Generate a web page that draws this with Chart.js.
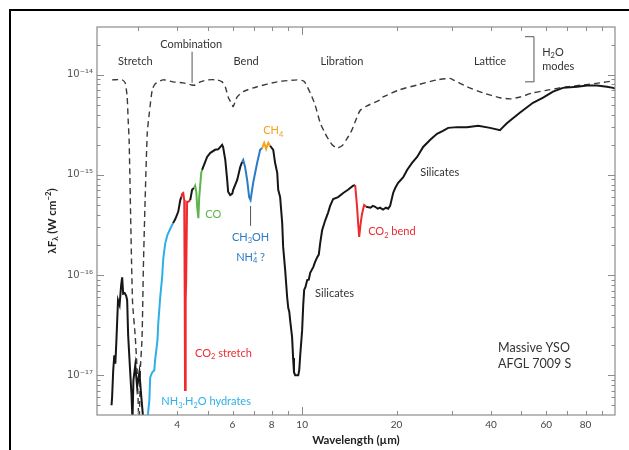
<!DOCTYPE html>
<html><head><meta charset="utf-8">
<script src="https://cdn.jsdelivr.net/npm/chart.js@4.4.1/dist/chart.umd.min.js"></script>
<style>
html,body{margin:0;padding:0;background:#fff;overflow:hidden;width:629px;height:450px;}
#frame{position:absolute;left:9px;top:9px;width:700px;height:600px;border:2px solid #000;}
#wrap{position:absolute;left:0;top:0;width:629px;height:450px;}
</style></head><body>
<div id="frame"></div>
<div id="wrap"><canvas id="c"></canvas></div>
<script>
// ---- Observed spectrum (solid) ----
const wavelength = [2.47,2.48,2.50,2.52,2.54,2.56,2.59,2.62,2.65,2.67,2.69,2.72,2.75,2.77,2.79,2.83,2.86,2.88,2.90,2.94,2.98,3.03,3.07,3.12,3.17,
 3.21,3.26,3.28,3.33,3.38,3.40,3.46,3.48,3.53,3.58,3.61,3.66,3.72,3.80,3.88,
 3.94,4.03,4.09,4.12,4.15,4.18,4.21,4.226,4.235,4.25,4.26,4.27,4.30,4.34,4.40,
 4.46,4.52,4.56,4.60,4.63,4.67,4.70,4.77,4.80,
 4.91,4.98,5.10,5.28,5.40,5.56,5.60,5.69,5.77,5.81,5.90,5.99,6.03,6.21,6.35,
 6.44,6.49,6.58,6.68,6.78,6.85,6.98,7.19,7.35,7.46,7.57,7.68,7.80,7.91,
 7.96,8.09,8.20,8.33,8.39,8.51,8.64,8.70,8.83,8.96,9.03,9.10,9.16,9.29,9.36,9.42,9.50,9.72,9.79,9.86,
 10.0,10.08,10.15,10.25,10.38,10.5,10.61,10.85,11.0,11.17,11.3,11.42,11.58,11.84,12.1,12.28,12.56,13.02,13.52,14.0,14.54,
 14.76,14.95,15.09,15.2,15.35,15.5,15.76,16.0,
 16.5,16.8,17.1,17.4,17.7,18.1,18.5,18.8,19.07,19.5,19.8,20.2,21.0,21.6,22.4,23.25,24.3,25.6,26.9,28.1,29.2,
 31.2,33.5,36.4,39.7,42.7,43.4,45.0,49.5,54.4,58.6,63.0,67.8,75.2,80.9,87.0,93.6,97.9,99.3];
const flux = [5.0e-18,6.0e-18,1.1e-17,1.58e-17,1.3e-17,2.24e-17,5.6e-17,5.0e-17,7.9e-17,9.5e-17,6.5e-17,6.6e-17,6.2e-17,5.6e-17,2.5e-17,1.12e-17,6.3e-18,3.5e-18,8.9e-18,1.26e-17,7.6e-18,1.07e-17,6.3e-18,3.5e-18,2.5e-18,
 3.5e-18,5.6e-18,9.5e-18,1.07e-17,1.12e-17,1.41e-17,2.24e-17,3.3e-17,6.0e-17,9.5e-17,1.45e-16,2.05e-16,2.5e-16,2.9e-16,3.3e-16,
 3.6e-16,4.3e-16,5.6e-16,6.0e-16,6.5e-16,6.6e-16,5.6e-16,5.6e-17,7.1e-18,7.1e-18,5.6e-17,8.9e-17,5.4e-16,5.4e-16,5.6e-16,
 7.1e-16,7.4e-16,7.8e-16,6.8e-16,4.8e-16,3.7e-16,6.0e-16,1.05e-15,1.12e-15,
 1.35e-15,1.51e-15,1.66e-15,1.78e-15,1.8e-15,2.0e-15,1.9e-15,1.41e-15,8.9e-16,6.8e-16,6.3e-16,6.5e-16,7.1e-16,8.9e-16,1.2e-15,
 1.35e-15,1.41e-15,1.2e-15,8.9e-16,6.0e-16,5.6e-16,8.3e-16,1.32e-15,1.78e-15,1.86e-15,2.09e-15,1.82e-15,2.09e-15,1.95e-15,
 1.9e-15,1.78e-15,1.32e-15,1.05e-15,7.1e-16,6.0e-16,3.3e-16,1.91e-16,1.12e-16,6.0e-17,4.7e-17,4.3e-17,3.5e-17,2.4e-17,1.48e-17,1.07e-17,1.0e-17,1.0e-17,1.12e-17,1.58e-17,
 2.8e-17,5.0e-17,7.1e-17,7.6e-17,8.9e-17,9.0e-17,1.05e-16,1.2e-16,1.35e-16,1.51e-16,1.6e-16,2.09e-16,2.8e-16,3.5e-16,4.2e-16,4.9e-16,5.75e-16,6.0e-16,6.6e-16,7.1e-16,7.8e-16,
 7.9e-16,5.0e-16,3.2e-16,2.4e-16,3.2e-16,4.0e-16,5.0e-16,4.8e-16,
 4.7e-16,4.9e-16,4.8e-16,4.6e-16,4.7e-16,4.5e-16,4.7e-16,4.6e-16,4.9e-16,6.6e-16,7.4e-16,8.3e-16,9.5e-16,1.12e-15,1.32e-15,1.51e-15,1.9e-15,2.24e-15,2.57e-15,2.75e-15,2.95e-15,
 3.0e-15,3.0e-15,3.1e-15,2.95e-15,2.8e-15,2.95e-15,3.3e-15,4.2e-15,5.25e-15,5.9e-15,6.8e-15,7.4e-15,7.6e-15,7.8e-15,7.8e-15,7.6e-15,7.4e-15,7.3e-15];

// ---- H2O ice model (dashed) ----
const iceWavelength = [2.48,2.67,2.73,2.77,2.79,2.81,2.88,2.94,2.98,3.00,3.02,3.04,3.05,3.09,3.12,3.16,3.21,3.26,3.33,3.40,3.61,3.88,4.18,4.46,4.56,4.74,5.02,5.36,5.56,5.69,5.81,5.99,6.03,6.21,6.49,7.19,8.33,9.64,
 10.08,10.23,10.61,10.85,11.0,11.42,11.84,12.0,12.46,12.93,13.4,13.9,14.4,14.76,15.3,16.1,17.7,18.1,20.5,23.25,26.9,29.6,30.3,33.5,37.7,42.7,46.0,49.5,54.4,61.6,69.8,78.5,89,97.9];
const iceFlux = [8.9e-15,8.9e-15,8.3e-15,6.0e-15,3.55e-15,2.24e-15,5.6e-17,2.4e-17,1.12e-17,6.0e-18,3.0e-18,6.0e-18,1.12e-17,2.4e-17,1.2e-16,5.6e-16,2.6e-15,4.2e-15,7.1e-15,8.1e-15,8.9e-15,8.5e-15,8.3e-15,7.9e-15,7.9e-15,8.5e-15,8.9e-15,8.9e-15,8.5e-15,7.6e-15,6.0e-15,5.0e-15,4.8e-15,6.0e-15,6.8e-15,7.6e-15,8.5e-15,8.9e-15,
 8.7e-15,8.3e-15,6.6e-15,5.6e-15,5.0e-15,3.3e-15,2.6e-15,2.4e-15,2.0e-15,1.86e-15,1.95e-15,2.3e-15,2.8e-15,3.4e-15,4.4e-15,4.9e-15,5.6e-15,6.0e-15,7.1e-15,7.9e-15,8.9e-15,9.2e-15,8.9e-15,7.6e-15,6.6e-15,5.9e-15,5.75e-15,6.0e-15,6.6e-15,7.1e-15,7.6e-15,7.9e-15,8.3e-15,8.7e-15];

// ---- Coloured absorption bands (wavelength ranges, µm) ----
const bandNames = ['NH3.H2O hydrates','CO2 stretch','CO','CH3OH','CH4','CO2 bend'];
const bandFrom  = [3.21, 4.12, 4.52, 6.44, 7.46, 14.76];
const bandTo    = [3.88, 4.40, 4.80, 7.46, 7.91, 16.0];
const bandColor = ['#2bb0e8','#ee2a2f','#5db44a','#2a7cc7','#f6a21d','#ee2a2f'];

// ---- Ticks ----
const xTickValues = [3,4,5,6,7,8,9,10,20,30,40,50,60,70,80,90];
const xLabelValues = [4,6,8,10,20,40,60,80];
const yTickValues = [5e-18,6e-18,7e-18,8e-18,9e-18,1e-17,2e-17,3e-17,4e-17,5e-17,6e-17,7e-17,8e-17,9e-17,
 1e-16,2e-16,3e-16,4e-16,5e-16,6e-16,7e-16,8e-16,9e-16,1e-15,2e-15,3e-15,4e-15,5e-15,6e-15,7e-15,8e-15,9e-15,1e-14,2e-14];
const yLabelValues = [1e-17,1e-16,1e-15,1e-14];
const yTickLabels  = ['10⁻¹⁷','10⁻¹⁶','10⁻¹⁵','10⁻¹⁴'];

const dark = '#333', cyan = bandColor[0], red = bandColor[1], green = bandColor[2], blue = bandColor[3], orange = bandColor[4];
const annotations = [
 {parts:[['Stretch']], at:[2.94,1.35e-14], align:'center', color:dark},
 {parts:[['Combination']], at:[4.43,2.0e-14], align:'center', color:dark},
 {parts:[['Bend']], at:[6.63,1.35e-14], align:'center', color:dark},
 {parts:[['Libration']], at:[13.4,1.35e-14], align:'center', color:dark},
 {parts:[['Lattice']], at:[39.7,1.35e-14], align:'center', color:dark},
 {parts:[['H'],['2','sub'],['O']], at:[58.2,1.66e-14], align:'left', color:dark},
 {parts:[['modes']], at:[58.2,1.2e-14], align:'left', color:dark},
 {parts:[['CH'],['4','sub']], at:[8.09,2.75e-15], align:'center', color:orange},
 {parts:[['CO']], at:[4.91,4.0e-16], align:'left', color:green},
 {parts:[['CH'],['3','sub'],['OH']], at:[6.85,2.4e-16], align:'center', color:blue},
 {parts:[['NH'],['4','stack','+'],[' ?']], at:[6.85,1.51e-16], align:'center', color:blue},
 {parts:[['CO'],['2','sub'],[' stretch']], at:[4.56,1.66e-17], align:'left', color:red},
 {parts:[['NH'],['3','sub'],['.H'],['2','sub'],['O hydrates']], at:[3.56,5.4e-18], align:'left', color:cyan},
 {parts:[['Silicates']], at:[11.0,6.5e-17], align:'left', color:dark},
 {parts:[['Silicates']], at:[23.8,1.05e-15], align:'left', color:dark},
 {parts:[['CO'],['2','sub'],[' bend']], at:[16.23,2.7e-16], align:'left', color:red},
 {parts:[['Massive YSO']], at:[42.1,1.86e-17], align:'left', color:dark, size:12.5},
 {parts:[['AFGL 7009 S']], at:[42.1,1.29e-17], align:'left', color:dark, size:12.5}
];
const leaders = [
 [[4.46,1.7e-14],[4.46,8.3e-15]],
 [[6.85,4.9e-16],[6.85,3.1e-16]],
 [[51.3,2.4e-14],[54.8,2.4e-14],[54.8,8.5e-15],[51.3,8.5e-15]]
];

const FAM = 'Lato, "Open Sans", "Liberation Sans", sans-serif';
function drawRich(ctx, parts, x, y, size, color, align, weight) {
  const w = weight || 'normal';
  let total = 0;
  const ms = parts.map(p => {
    const s = p[1] ? size * 0.68 : size;
    ctx.font = `${w} ${s}px ${FAM}`;
    let mw = ctx.measureText(p[0]).width;
    if (p[1] === 'stack') mw = Math.max(mw, ctx.measureText(p[2]).width);
    total += mw;
    return {t:p[0], s, mode:p[1], extra:p[2], w:mw};
  });
  let cx = align === 'center' ? x - total / 2 : (align === 'right' ? x - total : x);
  ctx.fillStyle = color; ctx.textBaseline = 'middle'; ctx.textAlign = 'left';
  ms.forEach(m => {
    ctx.font = `${w} ${m.s}px ${FAM}`;
    if (m.mode === 'stack') {
      ctx.fillText(m.t, cx, y + size * 0.3);
      ctx.fillText(m.extra, cx, y - size * 0.35);
    } else {
      const dy = m.mode === 'sub' ? size * 0.3 : (m.mode === 'sup' ? -size * 0.35 : 0);
      ctx.fillText(m.t, cx, y + dy);
    }
    cx += m.w;
  });
}

const decor = {
  id: 'decor',
  afterDraw(chart) {
    const {ctx, chartArea: a, scales: {x, y}} = chart;
    ctx.save();
    ctx.strokeStyle = '#8c8c8c'; ctx.lineWidth = 1.2;
    ctx.strokeRect(a.left, a.top, a.right - a.left, a.bottom - a.top);
    ctx.lineWidth = 1;
    ctx.beginPath();
    xTickValues.forEach(v => {
      const px = Math.round(x.getPixelForValue(v)) + 0.5;
      const L = (v === 10) ? 8 : 4;
      ctx.moveTo(px, a.bottom); ctx.lineTo(px, a.bottom - L);
      ctx.moveTo(px, a.top); ctx.lineTo(px, a.top + L);
    });
    yTickValues.forEach(v => {
      const py = Math.round(y.getPixelForValue(v)) + 0.5;
      const L = yLabelValues.includes(v) ? 7 : 3.5;
      ctx.moveTo(a.left, py); ctx.lineTo(a.left + L, py);
      ctx.moveTo(a.right, py); ctx.lineTo(a.right - L, py);
    });
    ctx.stroke();
    // leader lines
    ctx.strokeStyle = '#555'; ctx.lineWidth = 1;
    leaders.forEach(path => {
      ctx.beginPath();
      path.forEach((p, i) => {
        const px = x.getPixelForValue(p[0]), py = y.getPixelForValue(p[1]);
        if (i === 0) ctx.moveTo(px, py); else ctx.lineTo(px, py);
      });
      ctx.stroke();
    });
    annotations.forEach(an => {
      drawRich(ctx, an.parts, x.getPixelForValue(an.at[0]), y.getPixelForValue(an.at[1]), an.size || 11, an.color, an.align);
    });
    // y-axis title
    ctx.translate(52, (a.top + a.bottom) / 2);
    ctx.rotate(-Math.PI / 2);
    drawRich(ctx, [['λF'],['λ','sub'],[' (W cm'],['−2','sup'],[')']], 0, 0, 11.5, '#222', 'center', 'bold');
    ctx.restore();
  }
};

function bandColorAt(m) {
  for (let i = 0; i < bandFrom.length; i++) if (m > bandFrom[i] && m < bandTo[i]) return bandColor[i];
  return '#161616';
}

new Chart(document.getElementById('c'), {
  type: 'line',
  data: {
    datasets: [
      {
        label: 'AFGL 7009 S',
        data: wavelength.map((w, i) => ({x: w, y: flux[i]})),
        borderColor: '#161616', borderWidth: 2, pointRadius: 0, tension: 0,
        segment: { borderColor: c => bandColorAt((c.p0.parsed.x + c.p1.parsed.x) / 2) }
      },
      {
        label: 'H2O ice',
        data: iceWavelength.map((w, i) => ({x: w, y: iceFlux[i]})),
        borderColor: '#3a3a3a', borderWidth: 1.4, borderDash: [6, 4], pointRadius: 0, tension: 0.2
      }
    ]
  },
  options: {
    responsive: true, maintainAspectRatio: false, animation: false,
    layout: {padding: {left: 0, right: 14, top: 27, bottom: 0}},
    plugins: {legend: {display: false}, tooltip: {enabled: false}},
    scales: {
      x: {
        type: 'logarithmic', min: 2.22, max: 99.3,
        grid: {display: false, drawTicks: false}, border: {display: false},
        afterBuildTicks: s => { s.ticks = xTickValues.map(v => ({value: v})); },
        afterFit: s => { s.height = 35; },
        ticks: {
          autoSkip: false, maxRotation: 0, padding: 4, color: '#444',
          font: {family: FAM, size: 10},
          callback: v => xLabelValues.includes(v) ? String(v) : ''
        },
        title: {display: true, text: 'Wavelength (µm)', color: '#222',
          font: {family: FAM, size: 11.5, weight: 'bold'}, padding: {top: 0, bottom: 3}}
      },
      y: {
        type: 'logarithmic', min: 4e-18, max: 3e-14,
        grid: {display: false, drawTicks: false}, border: {display: false},
        afterBuildTicks: s => { s.ticks = yTickValues.map(v => ({value: v})); },
        afterFit: s => { s.width = 97; },
        ticks: {
          autoSkip: false, padding: 4, color: '#555',
          font: {family: '"DejaVu Sans", sans-serif', size: 10},
          callback: v => { const i = yLabelValues.indexOf(v); return i >= 0 ? yTickLabels[i] : ''; }
        }
      }
    }
  },
  plugins: [decor]
});
</script>
</body></html>
